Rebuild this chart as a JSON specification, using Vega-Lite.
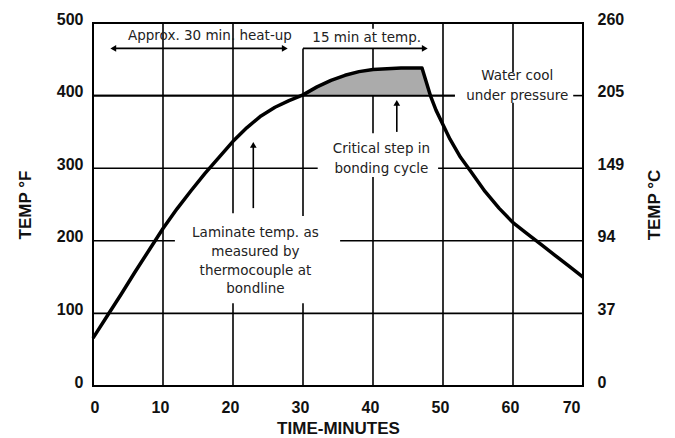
{
  "$schema": "https://vega.github.io/schema/vega-lite/v6.json",
  "width": 490,
  "height": 363,
  "autosize": {"type": "none"},
  "padding": {"left": 93, "top": 23, "right": 92, "bottom": 52},
  "background": "white",
  "config": {
    "view": {"stroke": "black", "strokeWidth": 2},
    "font": "Liberation Sans",
    "axis": {"labelColor": "#111", "titleColor": "#111", "labelFont": "Liberation Sans", "titleFont": "Liberation Sans"}
  },
  "datasets": {
    "curve": [
      {"t": 0, "F": 66}, {"t": 2, "F": 96}, {"t": 4, "F": 126}, {"t": 6, "F": 157},
      {"t": 8, "F": 187}, {"t": 10, "F": 217}, {"t": 12, "F": 244}, {"t": 14, "F": 269},
      {"t": 16, "F": 293}, {"t": 18, "F": 315}, {"t": 20, "F": 337}, {"t": 22, "F": 356},
      {"t": 24, "F": 372}, {"t": 26, "F": 384}, {"t": 28, "F": 393}, {"t": 30, "F": 401},
      {"t": 32, "F": 412}, {"t": 34, "F": 421}, {"t": 36, "F": 428}, {"t": 38, "F": 433},
      {"t": 40, "F": 436}, {"t": 42, "F": 437}, {"t": 44, "F": 438}, {"t": 47, "F": 438},
      {"t": 48.2, "F": 400}, {"t": 49, "F": 380}, {"t": 50, "F": 360}, {"t": 51, "F": 340},
      {"t": 52.5, "F": 315}, {"t": 54, "F": 295}, {"t": 56, "F": 268}, {"t": 58, "F": 245},
      {"t": 60, "F": 225}, {"t": 62, "F": 210}, {"t": 64, "F": 195}, {"t": 66, "F": 180},
      {"t": 68, "F": 165}, {"t": 70, "F": 150}
    ],
    "plateau": [
      {"t": 30, "F": 401}, {"t": 32, "F": 412}, {"t": 34, "F": 421}, {"t": 36, "F": 428},
      {"t": 38, "F": 433}, {"t": 40, "F": 436}, {"t": 42, "F": 437}, {"t": 44, "F": 438},
      {"t": 47, "F": 438}, {"t": 48.2, "F": 400}
    ],
    "grid": [
      {"x1": 0, "x2": 70, "y1": 100, "y2": 100},
      {"x1": 0, "x2": 11.7, "y1": 200, "y2": 200},
      {"x1": 35.3, "x2": 70, "y1": 200, "y2": 200},
      {"x1": 0, "x2": 32.1, "y1": 300, "y2": 300},
      {"x1": 49.3, "x2": 70, "y1": 300, "y2": 300},
      {"x1": 0, "x2": 51.7, "y1": 400, "y2": 400},
      {"x1": 68.6, "x2": 70, "y1": 400, "y2": 400},
      {"x1": 10, "x2": 10, "y1": 0, "y2": 500},
      {"x1": 20, "x2": 20, "y1": 0, "y2": 114},
      {"x1": 20, "x2": 20, "y1": 238, "y2": 500},
      {"x1": 30, "x2": 30, "y1": 0, "y2": 114},
      {"x1": 30, "x2": 30, "y1": 234, "y2": 465},
      {"x1": 40, "x2": 40, "y1": 0, "y2": 288},
      {"x1": 40, "x2": 40, "y1": 348, "y2": 465},
      {"x1": 40, "x2": 40, "y1": 492, "y2": 500},
      {"x1": 50, "x2": 50, "y1": 0, "y2": 500},
      {"x1": 60, "x2": 60, "y1": 0, "y2": 390},
      {"x1": 60, "x2": 60, "y1": 432, "y2": 500}
    ],
    "arrows": [
      {"x1": 2.9, "x2": 27.4, "y1": 465, "y2": 465},
      {"x1": 30, "x2": 47.4, "y1": 465, "y2": 465},
      {"x1": 43.4, "x2": 43.4, "y1": 350, "y2": 390},
      {"x1": 22.9, "x2": 22.9, "y1": 245, "y2": 332}
    ],
    "heads": [
      {"x": 2.9, "y": 465, "dir": "left"},
      {"x": 27.4, "y": 465, "dir": "right"},
      {"x": 47.4, "y": 465, "dir": "right"},
      {"x": 43.4, "y": 390, "dir": "up"},
      {"x": 22.9, "y": 332, "dir": "up"}
    ],
    "labels": [
      {"x": 16.7, "y": 482, "text": "Approx. 30 min. heat-up"},
      {"x": 39.1, "y": 480, "text": "15 min at temp."},
      {"x": 60.6, "y": 427, "text": "Water cool"},
      {"x": 60.6, "y": 399, "text": "under pressure"},
      {"x": 41.2, "y": 327, "text": "Critical step in"},
      {"x": 41.2, "y": 299, "text": "bonding cycle"},
      {"x": 23.2, "y": 211, "text": "Laminate temp. as"},
      {"x": 23.2, "y": 185, "text": "measured by"},
      {"x": 23.2, "y": 159, "text": "thermocouple at"},
      {"x": 23.2, "y": 133, "text": "bondline"}
    ]
  },
  "resolve": {"axis": {"y": "independent"}},
  "layer": [
    {
      "data": {"name": "grid"},
      "mark": {"type": "rule", "color": "black", "strokeWidth": 1.6},
      "encoding": {
        "x": {
          "field": "x1", "type": "quantitative", "scale": {"domain": [0, 70], "nice": false},
          "axis": {
            "values": [0, 10, 20, 30, 40, 50, 60, 70],
            "title": "TIME-MINUTES", "titleFontSize": 17, "titleFontWeight": "bold", "titlePadding": 5,
            "labelFontSize": 16, "labelFontWeight": "bold", "labelPadding": 13, "labelOffset": -3,
            "domain": false, "ticks": false, "grid": false
          }
        },
        "x2": {"field": "x2"},
        "y": {"field": "y1", "type": "quantitative", "scale": {"domain": [0, 500], "nice": false}, "axis": null},
        "y2": {"field": "y2"}
      }
    },
    {
      "data": {"name": "plateau"},
      "mark": {"type": "area", "color": "#ababab", "opacity": 1},
      "encoding": {
        "x": {"field": "t", "type": "quantitative"},
        "y": {"field": "F", "type": "quantitative", "axis": null},
        "y2": {"datum": 400}
      }
    },
    {
      "data": {"name": "grid"},
      "transform": [{"filter": "datum.y1 == 400 && datum.x1 == 0"}],
      "mark": {"type": "rule", "color": "black", "strokeWidth": 1.6},
      "encoding": {
        "x": {"field": "x1", "type": "quantitative"},
        "x2": {"field": "x2"},
        "y": {"field": "y1", "type": "quantitative", "axis": null},
        "y2": {"field": "y2"}
      }
    },
    {
      "data": {"name": "curve"},
      "mark": {"type": "line", "color": "black", "strokeWidth": 3.5, "strokeJoin": "round"},
      "encoding": {
        "x": {"field": "t", "type": "quantitative"},
        "y": {
          "field": "F", "type": "quantitative",
          "axis": {
            "orient": "left", "values": [0, 100, 200, 300, 400, 500],
            "title": "TEMP °F", "titleFontSize": 17, "titleFontWeight": "bold", "titlePadding": 22,
            "labelFontSize": 16, "labelFontWeight": "bold", "labelPadding": 10, "labelOffset": -4,
            "domain": false, "ticks": false, "grid": false
          }
        }
      }
    },
    {
      "data": {"name": "arrows"},
      "mark": {"type": "rule", "color": "black", "strokeWidth": 1.6},
      "encoding": {
        "x": {"field": "x1", "type": "quantitative"},
        "x2": {"field": "x2"},
        "y": {"field": "y1", "type": "quantitative", "axis": null},
        "y2": {"field": "y2"}
      }
    },
    {
      "data": {"name": "heads"},
      "mark": {"type": "point", "filled": true, "color": "black", "size": 45, "opacity": 1},
      "encoding": {
        "x": {"field": "x", "type": "quantitative"},
        "y": {"field": "y", "type": "quantitative", "axis": null},
        "shape": {"field": "dir", "type": "nominal", "scale": {"domain": ["left", "right", "up"], "range": ["triangle-left", "triangle-right", "triangle-up"]}, "legend": null}
      }
    },
    {
      "data": {"name": "labels"},
      "mark": {"type": "text", "font": "DejaVu Sans", "fontSize": 13.5, "color": "#222", "align": "center", "baseline": "middle"},
      "encoding": {
        "x": {"field": "x", "type": "quantitative"},
        "y": {"field": "y", "type": "quantitative", "axis": null},
        "text": {"field": "text"}
      }
    },
    {
      "data": {"name": "curve"},
      "mark": {"type": "point", "opacity": 0},
      "encoding": {
        "x": {"field": "t", "type": "quantitative"},
        "y": {
          "field": "F", "type": "quantitative",
          "axis": {
            "orient": "right", "values": [0, 100, 200, 300, 400, 500],
            "labelExpr": "datum.value == 500 ? '260' : datum.value == 400 ? '205' : datum.value == 300 ? '149' : datum.value == 200 ? '94' : datum.value == 100 ? '37' : '0'",
            "title": "TEMP °C", "titleFontSize": 17, "titleFontWeight": "bold", "titleAngle": -90, "titlePadding": 40,
            "labelFontSize": 16, "labelFontWeight": "bold", "labelPadding": 14, "labelOffset": -4,
            "domain": false, "ticks": false, "grid": false
          }
        }
      }
    }
  ]
}
